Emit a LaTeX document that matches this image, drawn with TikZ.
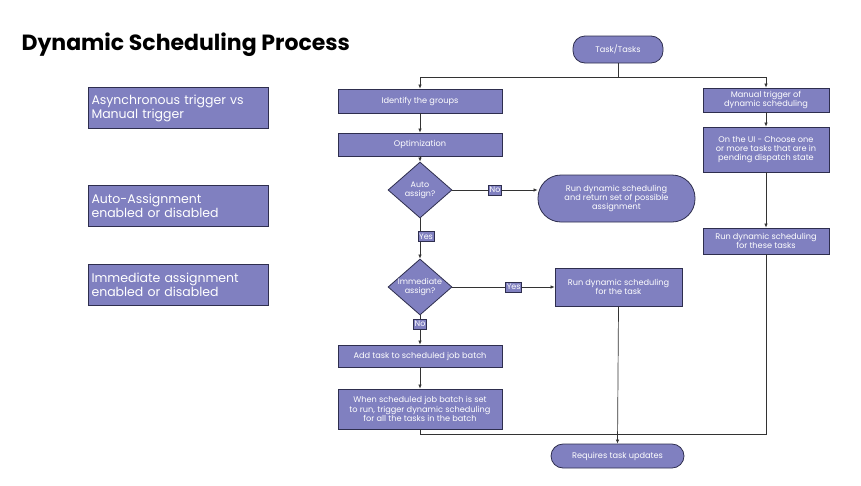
\documentclass[tikz,border=0pt]{standalone}
\usepackage{fontspec}
\setmainfont{Poppins}
\usetikzlibrary{shapes.geometric,arrows.meta}
\definecolor{fillc}{HTML}{8080C0}
\definecolor{edgec}{HTML}{2E2E4E}
\begin{document}
\begin{tikzpicture}[x=1pt,y=-1pt,
  box/.style={draw=edgec,fill=fillc,text=white,font=\fontsize{8.2}{9.3}\selectfont,align=center,inner sep=1pt,line width=0.8pt},
  lbox/.style={draw=edgec,fill=fillc,text=white,font=\fontsize{12.5}{14}\selectfont,align=left,text width=174pt,inner sep=3pt,minimum width=180pt,minimum height=41pt,anchor=north west,line width=1pt},
  dia/.style={diamond,draw=edgec,fill=fillc,text=white,font=\fontsize{8}{9}\selectfont,align=center,minimum width=64pt,minimum height=56pt,inner sep=0pt,aspect=1.15,line width=0.8pt},
  tag/.style={draw=edgec,fill=fillc,text=white,font=\fontsize{8}{9}\selectfont,inner sep=1pt,minimum height=10pt},
  ln/.style={draw=black!80,line width=0.7pt},
  ar/.style={ln,-{Latex[length=4pt,width=3.5pt]}}]
\useasboundingbox (0,0) rectangle (861,485);
\node[anchor=west,font=\bfseries\fontsize{22}{26}\selectfont] (title) at (18,45) {Dynamic Scheduling Process};
\node[lbox] (l1) at (88,87) {Asynchronous trigger vs\\Manual trigger};
\node[lbox] (l2) at (88,185) {Auto-Assignment\\enabled or disabled};
\node[lbox] (l3) at (88,264) {Immediate assignment\\enabled or disabled};
\node[box,rounded corners=12pt,minimum width=90pt,minimum height=27pt] (start) at (618,49.5) {Task/Tasks};
\node[box,minimum width=164pt,minimum height=24pt] (ident) at (420,101) {Identify the groups};
\node[box,minimum width=164pt,minimum height=23pt] (opt) at (420,144.5) {Optimization};
\node[dia] (auto) at (420,190) {Auto\\assign?};
\node[dia] (imm) at (420,287) {Immediate\\assign?};
\node[box,rounded corners=23pt,minimum width=157pt,minimum height=47pt] (ret) at (616.5,198.5) {Run dynamic scheduling\\and return set of possible\\assignment};
\node[box,minimum width=127pt,minimum height=38pt] (runt) at (618.5,287) {Run dynamic scheduling\\for the task};
\node[box,minimum width=164pt,minimum height=22pt] (add) at (420,356) {Add task to scheduled job batch};
\node[box,minimum width=164pt,minimum height=40pt] (batch) at (420,409) {When scheduled job batch is set\\to run, trigger dynamic scheduling\\for all the tasks in the batch};
\node[box,minimum width=126pt,minimum height=24pt] (man) at (766,100) {Manual trigger of\\dynamic scheduling};
\node[box,minimum width=126pt,minimum height=45pt] (ui) at (766,149.5) {On the UI - Choose one\\or more tasks that are in\\pending dispatch state};
\node[box,minimum width=126pt,minimum height=26pt] (these) at (766,241) {Run dynamic scheduling\\for these tasks};
\node[box,rounded corners=12pt,minimum width=133pt,minimum height=24pt] (req) at (617.5,456) {Requires task updates};
\coordinate (split) at (618,77);
\coordinate (join) at (618,434);
\draw[ln] (start.south) -- (split);
\draw[ar] (split) -| (ident.north);
\draw[ar] (split) -| (man.north);
\draw[ar] (auto.east) -- node[tag,pos=0.5] (no1) {No} (auto.east -| ret.west);
\draw[ar] (ident) -- (opt);
\draw[ar] (opt) -- (auto);
\draw[ar] (auto) -- node[tag,pos=0.45,xshift=6pt] (yes1) {Yes} (imm);
\draw[ar] (imm) -- node[tag,pos=0.6] (yes2) {Yes} (runt);
\draw[ar] (imm) -- node[tag,pos=0.3] (no2) {No} (add);
\draw[ar] (add) -- (batch);
\draw[ar] (man) -- (ui);
\draw[ar] (ui) -- (these);
\draw[ln] (batch.south) |- (join);
\draw[ln] (these.south) |- (join);
\draw[ar] (runt.south) -- (req.north);
\end{tikzpicture}
\end{document}
